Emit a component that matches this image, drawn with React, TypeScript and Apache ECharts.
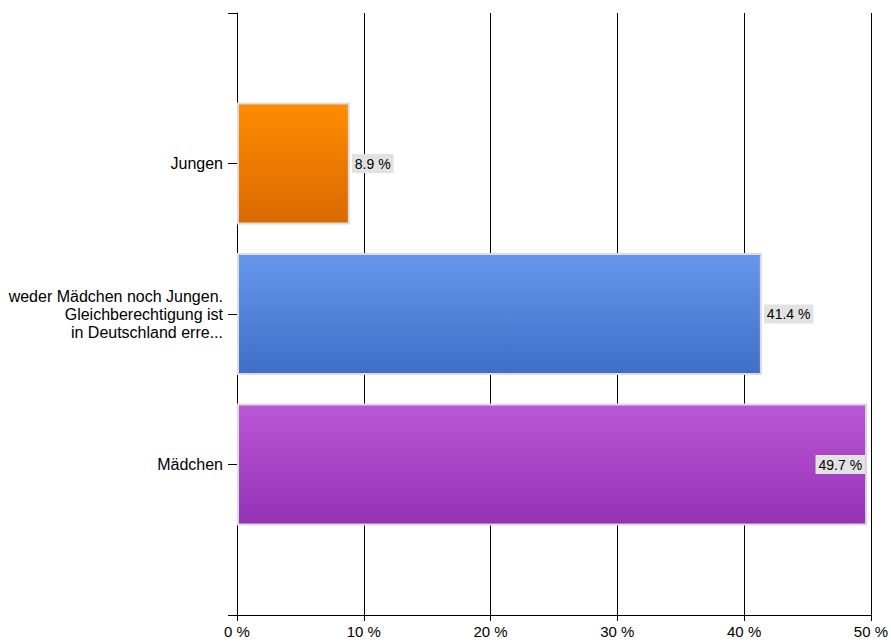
import React, { useEffect, useRef } from "react";
import * as echarts from "echarts";

const categories = ["", "Mädchen", "weder Mädchen noch Jungen.\nGleichberechtigung ist\nin Deutschland erre...", "Jungen", ""];
const values: (number | string)[] = ["-", 49.7, 41.4, 8.9, "-"];
const topColors = ["", "#bc58d6", "#6797ec", "#ff8c00", ""];
const bottomColors = ["", "#9430b4", "#3f6ec6", "#d86a00", ""];
const labelPositions = ["right", "insideRight", "right", "right", "right"];
const xTicks = [0, 10, 20, 30, 40, 50];

export default function App() {
  const ref = useRef<HTMLDivElement>(null);
  useEffect(() => {
    const chart = echarts.init(ref.current!, null, { renderer: "svg" });
    const data = values.map((v, i) =>
      v === "-"
        ? "-"
        : {
            value: v,
            itemStyle: {
              color: new echarts.graphic.LinearGradient(0, 0, 0, 1, [
                { offset: 0, color: topColors[i] },
                { offset: 1, color: bottomColors[i] },
              ]),
              borderColor: "#dcdcdc",
              borderWidth: 2,
            },
            label: { position: labelPositions[i] as any },
          }
    );
    chart.setOption({
      animation: false,
      backgroundColor: "#ffffff",
      textStyle: { fontFamily: "Liberation Sans" },
      grid: { left: 237, right: 19, top: 13, bottom: 29, containLabel: false },
      xAxis: {
        type: "value",
        min: xTicks[0],
        max: xTicks[xTicks.length - 1],
        interval: 10,
        axisLine: { show: true, lineStyle: { color: "#000", width: 1 } },
        axisTick: { show: true, length: 6, lineStyle: { color: "#000" } },
        axisLabel: {
          formatter: (v: number) => `${v} %`,
          color: "#000",
          fontSize: 15,
          margin: 9,
          showMaxLabel: true,
        },
        splitLine: { show: true, lineStyle: { color: "#000", width: 1 } },
      },
      yAxis: {
        type: "category",
        data: categories,
        boundaryGap: false,
        axisLine: { show: true, onZero: false, lineStyle: { color: "#000", width: 1 } },
        axisTick: { show: true, length: 9, lineStyle: { color: "#000" } },
        axisLabel: {
          color: "#000",
          fontSize: 16,
          margin: 14,
          align: "right",
          lineHeight: 18,
        },
        splitLine: { show: false },
      },
      series: [
        {
          type: "bar",
          data,
          barWidth: 122,
          label: {
            show: true,
            formatter: (p: any) => `${p.value} %`,
            color: "#000",
            fontSize: 14,
            backgroundColor: "#e2e2e2",
            padding: [3, 3, 2, 3],
            distance: 2,
          },
        },
      ],
    });
    return () => chart.dispose();
  }, []);
  return (
    <div
      ref={ref}
      style={{ position: "absolute", left: 0, top: 0, width: 891, height: 644 }}
    />
  );
}
